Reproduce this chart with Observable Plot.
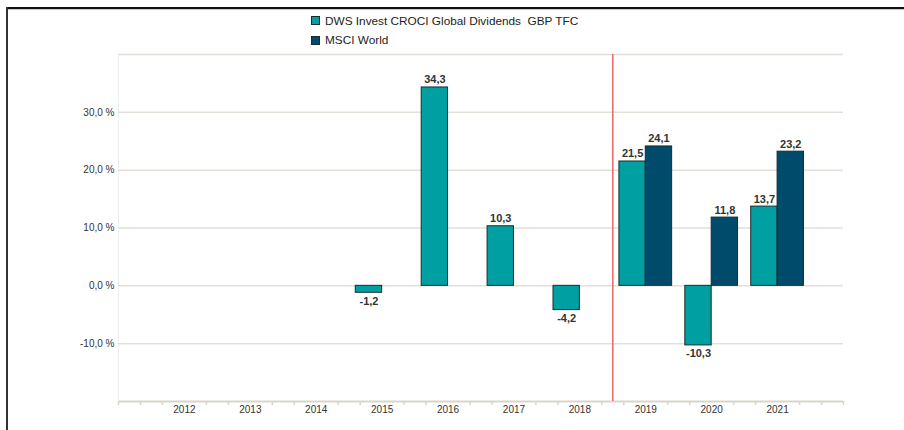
<!DOCTYPE html>
<html>
<head>
<meta charset="utf-8">
<script src="https://cdn.jsdelivr.net/npm/d3@7"></script>
<script src="https://cdn.jsdelivr.net/npm/@observablehq/plot@0.6"></script>
<style>
  html, body { margin: 0; padding: 0; background: #fff; }
  #wrap { position: relative; width: 904px; height: 430px; overflow: hidden; font-family: "Liberation Sans", Arial, sans-serif; }
  #wrap svg { position: absolute; left: 0; top: 0; }
  .frameTop { position: absolute; left: 6px; top: 7px; width: 898px; height: 0; border-top: 2px solid #111; }
  .frameTop2 { position: absolute; left: 8px; top: 9px; width: 896px; height: 0; border-top: 1px solid #c8c8c8; }
  .frameLeft { position: absolute; left: 6px; top: 7px; width: 0; height: 423px; border-left: 2px solid #333; }
  #legend { position: absolute; left: 311px; top: 11px; font-size: 11.8px; color: #222; }
  #legend .item { display: flex; align-items: center; height: 19.5px; }
  #legend .sw { width: 7px; height: 7px; border: 1px solid #1c2b2b; margin-right: 5px; }
</style>
</head>
<body>
<div id="wrap">
  <div id="legend"></div>
  <div class="frameTop"></div>
  <div class="frameTop2"></div>
  <div class="frameLeft"></div>
</div>
<script>
// ---- data ----
const years = [2012, 2013, 2014, 2015, 2016, 2017, 2018, 2019, 2020, 2021];
const yearLabels = ["2012", "2013", "2014", "2015", "2016", "2017", "2018", "2019", "2020", "2021"];
const seriesNames = ["DWS Invest CROCI Global Dividends  GBP TFC", "MSCI World"];
const fundValues = [null, null, null, -1.2, 34.3, 10.3, -4.2, 21.5, -10.3, 13.7];
const msciValues = [null, null, null, null, null, null, null, 24.1, 11.8, 23.2];
const yTicks = [30, 20, 10, 0, -10];
const yTickLabels = ["30,0 %", "20,0 %", "10,0 %", "0,0 %", "-10,0 %"];
const gridValues = [40, 30, 20, 10, 0, -10];
const markerYear = 2018.5; // red separator between 2018 and 2019
const colors = ["#00a0a2", "#004a6b"];

// ---- derived tables ----
const bars = [];
years.forEach((yr, i) => {
  if (fundValues[i] != null) bars.push({year: yr, s: 0, value: fundValues[i]});
  if (msciValues[i] != null) bars.push({year: yr, s: 1, value: msciValues[i]});
});
const barW = 0.4;
bars.forEach(d => { d.x1 = d.s === 0 ? d.year - barW : d.year; d.x2 = d.s === 0 ? d.year : d.year + barW; d.xc = (d.x1 + d.x2) / 2; d.label = d.value.toFixed(1).replace(".", ","); });
const xMin = years[0] - 1, xMax = years[years.length - 1] + 1;
const minorTicks = [];
for (let k = xMin * 3; k <= xMax * 3; k++) { const v = k / 3; if (k % 3 !== 0 || v === xMin || v === xMax) minorTicks.push(v); }
const yTickData = yTicks.map((v, i) => ({v, label: yTickLabels[i]}));
const yearData = years.map((v, i) => ({v, label: yearLabels[i]}));
const yMin = -20, yMax = 40;

const chart = Plot.plot({
  width: 904, height: 430,
  marginTop: 54, marginBottom: 29, marginLeft: 118, marginRight: 61,
  x: {type: "linear", domain: [xMin, xMax], axis: null},
  y: {domain: [yMin, yMax], axis: null},
  style: {fontFamily: "'Liberation Sans', Arial, sans-serif", background: "transparent", overflow: "visible"},
  marks: [
    Plot.ruleX([xMin], {y1: yMin, y2: yMax, stroke: "#eeeeee", strokeWidth: 1}),
    Plot.ruleY(gridValues, {x1: xMin, x2: xMax, stroke: "#e2dfd9", strokeWidth: 1.5}),
    Plot.ruleY([yMin], {x1: xMin, x2: xMax, stroke: "#d9d5cc", strokeWidth: 2}),
    Plot.ruleX(minorTicks, {y1: yMin, y2: yMin, insetBottom: -4, stroke: "#d9d5cc", strokeWidth: 1.5}),
    Plot.ruleX([markerYear], {y1: yMin, y2: yMax, stroke: "#f06464", strokeWidth: 1.5}),
    Plot.rect(bars, {x1: "x1", x2: "x2", y1: () => 0, y2: "value", fill: d => colors[d.s], stroke: "#1c2a2a", strokeWidth: 1}),
    Plot.text(bars.filter(d => d.value >= 0), {x: "xc", y: "value", text: "label", lineAnchor: "bottom", dy: -4, fontSize: 11, fontWeight: "bold", fill: "#333"}),
    Plot.text(bars.filter(d => d.value < 0), {x: "xc", y: "value", text: "label", lineAnchor: "top", dy: 4, fontSize: 11, fontWeight: "bold", fill: "#333"}),
    Plot.text(yTickData, {x: xMin, y: "v", text: "label", textAnchor: "end", dx: -4, fontSize: 10, fill: "#333"}),
    Plot.text(yearData, {x: "v", y: yMin, text: "label", lineAnchor: "top", dy: 4, fontSize: 10, fill: "#333"})
  ]
});
document.getElementById("wrap").prepend(chart);

const legend = document.getElementById("legend");
seriesNames.forEach((name, i) => {
  const it = document.createElement("div");
  it.className = "item";
  const sw = document.createElement("div");
  sw.className = "sw";
  sw.style.background = colors[i];
  const t = document.createElement("span");
  t.style.whiteSpace = "pre";
  t.textContent = name;
  it.appendChild(sw); it.appendChild(t);
  legend.appendChild(it);
});
</script>
</body>
</html>
